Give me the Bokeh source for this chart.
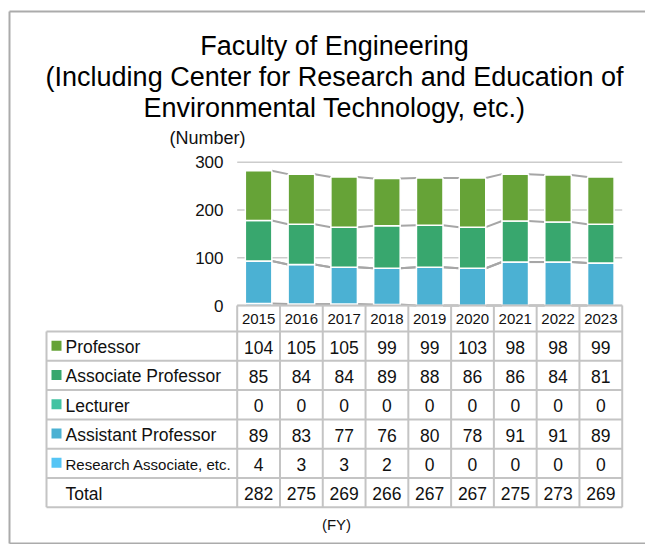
import numpy as np
from bokeh.plotting import figure
from bokeh.models import Range1d, ColumnDataSource
from bokeh.core.properties import value
from bokeh.embed import file_html
from bokeh.resources import INLINE

# ---------------- data ----------------
years = ["2015", "2016", "2017", "2018", "2019", "2020", "2021", "2022", "2023"]
professor = [104, 105, 105, 99, 99, 103, 98, 98, 99]
associate_professor = [85, 84, 84, 89, 88, 86, 86, 84, 81]
lecturer = [0, 0, 0, 0, 0, 0, 0, 0, 0]
assistant_professor = [89, 83, 77, 76, 80, 78, 91, 91, 89]
research_associate = [4, 3, 3, 2, 0, 0, 0, 0, 0]
totals = [282, 275, 269, 266, 267, 267, 275, 273, 269]
y_ticks = [0, 100, 200, 300]
series_names = ["Professor", "Associate Professor", "Lecturer",
                "Assistant Professor", "Research Associate, etc."]
series_colors = ["#66a337", "#38a76e", "#42c3a2", "#4bb1d3", "#55c5f5"]
title_lines = ["Faculty of Engineering",
               "(Including Center for Research and Education of",
               "Environmental Technology, etc.)"]
y_title = "(Number)"
x_title = "(FY)"
total_label = "Total"

# ---------------- layout (canvas pixels) ----------------
FONT = value("Liberation Sans")
W, H = 645, 544
CAT_L = 236.7          # left edge of first category
CAT_W = 42.78          # category width
Y0 = 305.0             # pixel row of value 0
PPU = 143.3 / 300.0    # pixels per unit


def X(px):
    return (px - CAT_L) / CAT_W


def Y(py):
    return (Y0 - py) / PPU


p = figure(width=W, height=H,
           x_range=Range1d(X(0), X(W)), y_range=Range1d(Y(H), Y(0)),
           x_axis_type=None, y_axis_type=None,
           toolbar_location=None, output_backend="svg",
           min_border=0, outline_line_color=None)
p.background_fill_color = "white"
p.border_fill_color = "white"

n = len(years)
xs = [i + 0.5 for i in range(n)]
BAR_W = 0.62

# outer frame
p.segment(x0=[X(9), X(9), X(9)], y0=[Y(11), Y(11), Y(H - 1)],
          x1=[X(9), X(W + 20), X(W + 20)], y1=[Y(H - 1), Y(11), Y(H - 1)],
          line_color="#ababab", line_width=2)

# gridlines
p.segment(x0=[0] * len(y_ticks), y0=y_ticks, x1=[n] * len(y_ticks), y1=y_ticks,
          line_color="#cccccc", line_width=1.5)

# stacked bars (bottom-up)
stack_data = [research_associate, assistant_professor, lecturer,
              associate_professor, professor]
stack_keys = ["ra", "asst", "lect", "assoc", "prof"]
stack_colors = list(reversed(series_colors))
src = ColumnDataSource(dict(x=xs, **{k: v for k, v in zip(stack_keys, stack_data)}))

# series lines between bars
cum = np.cumsum(np.array(stack_data), axis=0)
for level in cum:
    p.segment(x0=[xs[i] + BAR_W / 2 for i in range(n - 1)], y0=list(level[:-1]),
              x1=[xs[i + 1] - BAR_W / 2 for i in range(n - 1)], y1=list(level[1:]),
              line_color="#a6a6a6", line_width=2)

p.vbar_stack(stack_keys, x="x", width=BAR_W, fill_color=stack_colors,
             line_color="white", line_width=1.5, source=src)

# y tick labels
p.text(x=[X(223)] * len(y_ticks), y=y_ticks, text=[str(t) for t in y_ticks],
       text_font=FONT, text_font_size="17px", text_align="right",
       text_baseline="middle", text_color="#111111")

# y title
p.text(x=[X(207)], y=[Y(137.5)], text=[y_title], text_font=FONT,
       text_font_size="18px", text_align="center", text_baseline="middle",
       text_color="#111111")

# title
p.text(x=[X(334)] * 3, y=[Y(45.5), Y(76.5), Y(107.5)], text=title_lines,
       text_font=FONT, text_font_size="27px", text_align="center",
       text_baseline="middle", text_color="#000000")

# ---------------- data table ----------------
TBL_L = 46.0
HDR_T = 305.0
ROW_T = 331.0
ROW_H = 29.3
n_rows = 6
row_lines = [ROW_T + ROW_H * k for k in range(n_rows + 1)]
col_lines = [CAT_L + CAT_W * k for k in range(n + 1)]
TBL_B = row_lines[-1]
LINE_C = "#c4c4c4"

# horizontal
p.segment(x0=[X(CAT_L)], y0=[Y(HDR_T)], x1=[X(col_lines[-1])], y1=[Y(HDR_T)],
          line_color=LINE_C, line_width=2)
p.segment(x0=[X(TBL_L)] * len(row_lines), y0=[Y(r) for r in row_lines],
          x1=[X(col_lines[-1])] * len(row_lines), y1=[Y(r) for r in row_lines],
          line_color=LINE_C, line_width=2)
# vertical
p.segment(x0=[X(TBL_L)], y0=[Y(ROW_T)], x1=[X(TBL_L)], y1=[Y(TBL_B)],
          line_color=LINE_C, line_width=2)
p.segment(x0=[X(c) for c in col_lines], y0=[Y(HDR_T)] * len(col_lines),
          x1=[X(c) for c in col_lines], y1=[Y(TBL_B)] * len(col_lines),
          line_color=LINE_C, line_width=2)

# header years
p.text(x=xs, y=[Y((HDR_T + ROW_T) / 2 + 0.5)] * n, text=years, text_font=FONT,
       text_font_size="15px", text_align="center", text_baseline="middle",
       text_color="#111111")

table_rows = [professor, associate_professor, lecturer, assistant_professor,
              research_associate, totals]
row_names = series_names + [total_label]
for r, (vals, name) in enumerate(zip(table_rows, row_names)):
    cy = ROW_T + ROW_H * (r + 0.5) + 1.0
    p.text(x=xs, y=[Y(cy)] * n, text=[str(v) for v in vals], text_font=FONT,
           text_font_size="17.5px", text_align="center", text_baseline="middle",
           text_color="#111111")
    fs = "15px" if name.startswith("Research") else "17.5px"
    p.text(x=[X(65)], y=[Y(cy)], text=[name], text_font=FONT,
           text_font_size=fs, text_align="left", text_baseline="middle",
           text_color="#111111")
    if r < len(series_colors):
        p.rect(x=[X(56)], y=[Y(cy - 1.5)], width=10, height=10,
               width_units="screen", height_units="screen",
               fill_color=series_colors[r], line_color=None)

# x title
p.text(x=[X(336)], y=[Y(524)], text=[x_title], text_font=FONT,
       text_font_size="15px", text_align="center", text_baseline="middle",
       text_color="#111111")

open("out.html", "w").write(file_html(p, INLINE))
